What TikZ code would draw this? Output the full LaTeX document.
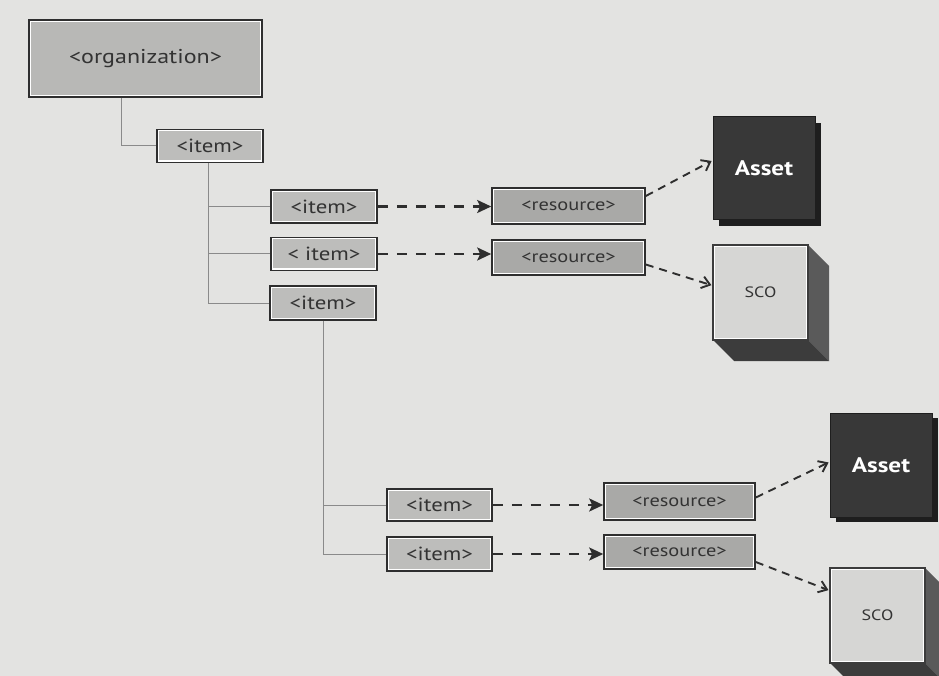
\documentclass[tikz,border=0pt]{standalone}
\usepackage{fontspec}
\setmainfont{PT Sans}[FakeStretch=1.2]
\usetikzlibrary{arrows.meta}
\definecolor{bg}{HTML}{E3E3E1}
\definecolor{edge}{HTML}{2E2E2E}
\definecolor{itemfill}{HTML}{BDBDBB}
\definecolor{resfill}{HTML}{A9A9A7}
\definecolor{orgfill}{HTML}{B8B8B6}
\definecolor{txt}{HTML}{333333}
\definecolor{assetfill}{HTML}{383838}
\definecolor{assetshadow}{HTML}{1E1E1E}
\definecolor{scofill}{HTML}{D6D6D4}
\definecolor{scoside}{HTML}{5A5A5A}
\definecolor{scobottom}{HTML}{3C3C3C}
\definecolor{treeline}{HTML}{8A8A8A}
\tikzset{
  box/.style={rectangle, draw=edge, line width=1.6pt, fill=white, inner sep=0pt, text=txt,
    path picture={\fill[#1] ([shift={(2pt,-2pt)}]path picture bounding box.north west) rectangle ([shift={(-2pt,2pt)}]path picture bounding box.south east);}},
  orgbox/.style={box=orgfill, minimum width=233pt, minimum height=77pt, font=\fontsize{20}{23}\selectfont},
  itembox/.style={box=itemfill, minimum width=106pt, minimum height=33pt, font=\fontsize{19}{22}\selectfont},
  resbox/.style={box=resfill, minimum width=153pt, minimum height=36pt, font=\fontsize{17}{20}\selectfont},
  assetbox/.style={rectangle, fill=assetfill, draw=assetshadow, line width=1pt, inner sep=0pt, minimum width=102pt, minimum height=103pt, text=white, font=\fontsize{21}{24}\selectfont\bfseries},
  scobox/.style={box=scofill, draw=scobottom, line width=1.2pt, minimum width=95pt, minimum height=95pt, font=\fontsize{15}{18}\selectfont},
  tree/.style={draw=treeline, line width=1pt},
  link/.style={draw=edge, line width=2.3pt, dash pattern=on 10pt off 9pt, -{Stealth[length=14pt,width=13pt,inset=3pt]}},
  diag/.style={draw=edge, line width=1.9pt, dash pattern=on 8pt off 6pt, -{Straight Barb[length=8pt,width=12pt,line width=1.9pt]}, shorten >=1pt}
}
\begin{document}
\begin{tikzpicture}[x=1pt,y=-1pt]
\fill[bg] (0,0) rectangle (939,676);
\useasboundingbox (0,0) rectangle (939,676);

% tree nodes
\node[orgbox] (org) at (145.5,58.5) {<organization>};
\node[itembox] (i1) at (210,146) {<item>};
\node[itembox] (i2) at (324,206.5) {<item>};
\node[itembox] (i3) at (324,254) {< item>};
\node[itembox, minimum height=34pt] (i4) at (323,303) {<item>};
\node[itembox, minimum width=105pt, minimum height=32pt] (i5) at (439.5,505) {<item>};
\node[itembox, minimum width=105pt, minimum height=34pt] (i6) at (439.5,554) {<item>};

\node[resbox] (r1) at (568.5,206) {<resource>};
\node[resbox, minimum height=35pt] (r2) at (568.5,257.5) {<resource>};
\node[resbox, minimum width=151pt, minimum height=37pt] (r3) at (679.5,501.5) {<resource>};
\node[resbox, minimum width=151pt, minimum height=34pt] (r4) at (679.5,552) {<resource>};

% assets with shadow
\fill[assetshadow] (719,123) rectangle (821,226);
\node[assetbox] (a1) at (764,168.5) {Asset};
\fill[assetshadow] (836,418) rectangle (938,522);
\node[assetbox, minimum height=104pt] (a2) at (881,465) {Asset};

% SCO extrusions
\fill[scoside] (808,245) -- (829,266) -- (829,361) -- (808,340) -- cycle;
\fill[scobottom] (713,340) -- (808,340) -- (829,361) -- (734,361) -- cycle;
\node[scobox] (s1) at (760.5,292.5) {SCO};
\fill[scoside] (925,568) -- (946,589) -- (946,684) -- (925,663) -- cycle;
\fill[scobottom] (830,663) -- (925,663) -- (946,684) -- (851,684) -- cycle;
\node[scobox] (s2) at (877.5,615.5) {SCO};

% tree connectors
\draw[tree] ([xshift=-24.5pt]org.south) |- (i1.west);
\draw[tree] ([xshift=-2pt]i1.south) |- (i2.west);
\draw[tree] ([xshift=-2pt]i1.south) |- (i3.west);
\draw[tree] ([xshift=-2pt]i1.south) |- (i4.west);
\draw[tree] (i4.south) |- (i5.west);
\draw[tree] (i4.south) |- (i6.west);

% item -> resource
\draw[link] (i2.east) -- (i2.east -| r1.west);
\draw[link] (i3.east) -- (i3.east -| r2.west);
\draw[link] (i5.east) -- (i5.east -| r3.west);
\draw[link] (i6.east) -- (i6.east -| r4.west);

% resource -> asset / sco
\draw[diag] ([yshift=10pt]r1.east) -- ([yshift=8pt]a1.west);
\draw[diag] ([yshift=-7pt]r2.east) -- ([yshift=7pt]s1.west);
\draw[diag] ([yshift=4pt]r3.east) -- ([yshift=3pt]a2.west);
\draw[diag] ([yshift=-10pt]r4.east) -- ([yshift=25pt]s2.west);
\end{tikzpicture}
\end{document}
